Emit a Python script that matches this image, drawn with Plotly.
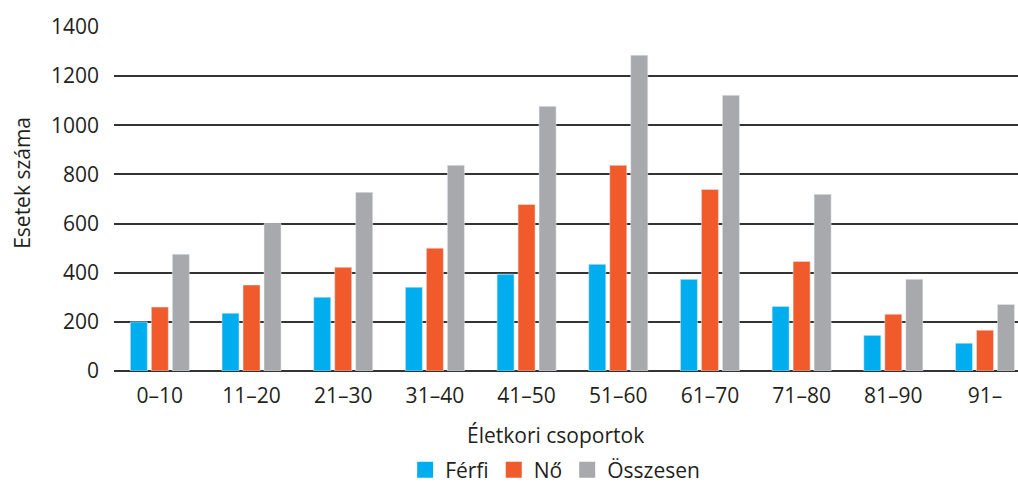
import plotly.graph_objects as go

categories = ["0–10", "11–20", "21–30", "31–40", "41–50", "51–60", "61–70", "71–80", "81–90", "91–"]
ferfi = [200, 235, 300, 341, 394, 434, 373, 263, 145, 113]
no = [260, 350, 422, 500, 678, 837, 739, 446, 231, 166]
osszesen = [475, 600, 727, 837, 1077, 1285, 1122, 719, 373, 271]
y_ticks = [0, 200, 400, 600, 800, 1000, 1200, 1400]
series_names = ["Férfi", "Nő", "Összesen"]
colors = ["#00AEEF", "#F15A2B", "#A7A9AC"]

FONT = "Open Sans"
TXT = "#231F20"
FS = 21

fig = go.Figure()
for name, vals, col in zip(series_names, [ferfi, no, osszesen], colors):
    fig.add_trace(go.Bar(x=categories, y=vals, name=name, marker_color=col,
                         showlegend=False, legendgroup=name))
# legend-only entries with larger square symbols
for name, col in zip(series_names, colors):
    fig.add_trace(go.Scatter(x=[None], y=[None], mode="markers", name=name,
                             legendgroup=name,
                             marker=dict(symbol="square", size=17, color=col)))

fig.update_layout(
    width=1018, height=485,
    margin=dict(l=114, r=0, t=27, b=114, autoexpand=False),
    paper_bgcolor="white", plot_bgcolor="white",
    barmode="group", bargap=0.313, bargroupgap=0.19,
    font=dict(family=FONT, size=FS, color=TXT),
    showlegend=True,
    legend=dict(orientation="h", x=0.488, xanchor="center", y=(371 - 470) / 344, yanchor="middle",
                font=dict(size=FS, color=TXT), itemwidth=30, itemsizing="trace"),
    xaxis=dict(range=[-0.5, 9.36], showgrid=False, showline=False, zeroline=False,
               ticks="", automargin=False, ticklabelstandoff=10,
               tickfont=dict(size=FS, color=TXT)),
    yaxis=dict(range=[0, 1400], tickvals=y_ticks, showgrid=True, gridcolor="#333333",
               gridwidth=1.5, zeroline=True, zerolinecolor="#333333", zerolinewidth=1.5,
               showline=False, ticks="", ticklabelstandoff=14, automargin=False,
               tickfont=dict(size=FS, color=TXT)),
    annotations=[
        dict(text="Esetek száma", textangle=-90, xref="paper", yref="paper",
             x=(22 - 114) / 904, y=0.547, xanchor="center", yanchor="middle", showarrow=False,
             font=dict(size=FS, color=TXT)),
        dict(text="Életkori csoportok", xref="paper", yref="paper",
             x=0.488, y=(371 - 435) / 344, xanchor="center", yanchor="middle", showarrow=False,
             font=dict(size=FS, color=TXT)),
    ],
)

fig.write_html("out.html", config={"displayModeBar": False},
               post_script="document.body.style.margin='0';document.body.style.overflow='hidden';")
